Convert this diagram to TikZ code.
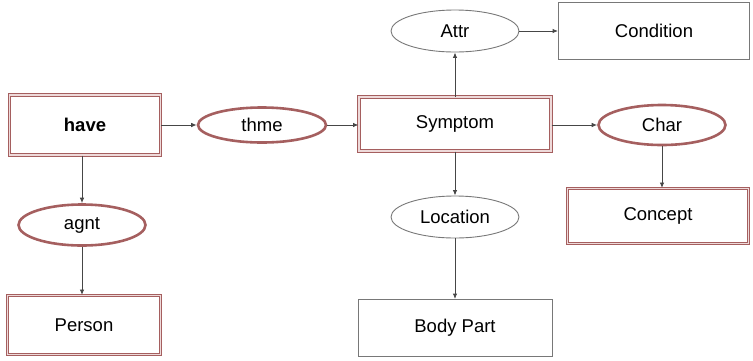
\documentclass[tikz,border=0pt]{standalone}
\usepackage{fontspec}
\setmainfont{Liberation Sans}
\usetikzlibrary{shapes.geometric,arrows.meta}
\definecolor{rosy}{RGB}{165,95,95}
\definecolor{rosyfill}{RGB}{238,218,218}
\definecolor{edgegray}{RGB}{120,120,120}
\definecolor{linkgray}{RGB}{70,70,70}
\tikzset{
  labeltext/.style={font=\fontsize{18.5}{22}\selectfont},
  concept/.style={rectangle, draw=rosy, double=rosyfill, double distance=1.3pt,
    line width=1pt, fill=white, labeltext},
  plainbox/.style={rectangle, draw=edgegray, line width=0.9pt, fill=white, labeltext},
  relation/.style={ellipse, draw=rosy, line width=2.6pt, fill=white, inner sep=0pt, labeltext},
  plainrel/.style={ellipse, draw=edgegray, line width=0.9pt, fill=white, inner sep=0pt, labeltext},
  link/.style={draw=linkgray, line width=0.9pt, -{Latex[length=5.5pt,width=4.5pt]}}
}
\begin{document}
\begin{tikzpicture}[x=1pt,y=-1pt]
\useasboundingbox (0,0) rectangle (753,360);
% concept boxes
\node[concept, minimum width=151pt, minimum height=60pt] (have) at (85,125) {\textbf{have}};
\node[concept, minimum width=192pt, minimum height=54pt] (symptom) at (455,124) {Symptom};
\node[concept, minimum width=181pt, minimum height=55pt] (concept) at (658,216) {Concept};
\node[concept, minimum width=153pt, minimum height=59pt] (person) at (84,325) {Person};
\node[plainbox, minimum width=191pt, minimum height=57pt] (condition) at (654,31) {Condition};
\node[plainbox, minimum width=194pt, minimum height=57pt] (bodypart) at (455,328) {Body Part};
% relation ellipses
\node[relation, minimum width=128pt, minimum height=35pt] (thme) at (262,125) {thme};
\node[relation, minimum width=127pt, minimum height=40pt] (char) at (662,125) {Char};
\node[relation, minimum width=127pt, minimum height=41pt] (agnt) at (82,225) {agnt};
\node[plainrel, minimum width=128pt, minimum height=42pt] (attr) at (455,31) {Attr};
\node[plainrel, minimum width=128pt, minimum height=42pt] (location) at (455,217) {Location};
% links
\draw[link] (have) -- (thme);
\draw[link] (thme) -- (thme -| symptom.west);
\draw[link] (symptom) -- (attr);
\draw[link] (attr) -- (condition);
\draw[link] (symptom.east |- char) -- (char);
\draw[link] (char.south) -- (char.south |- concept.north);
\draw[link] (symptom) -- (location);
\draw[link] (location) -- (bodypart);
\draw[link] (have.south -| agnt.north) -- (agnt.north);
\draw[link] (agnt) -- (person.north -| agnt.south);
\end{tikzpicture}
\end{document}
